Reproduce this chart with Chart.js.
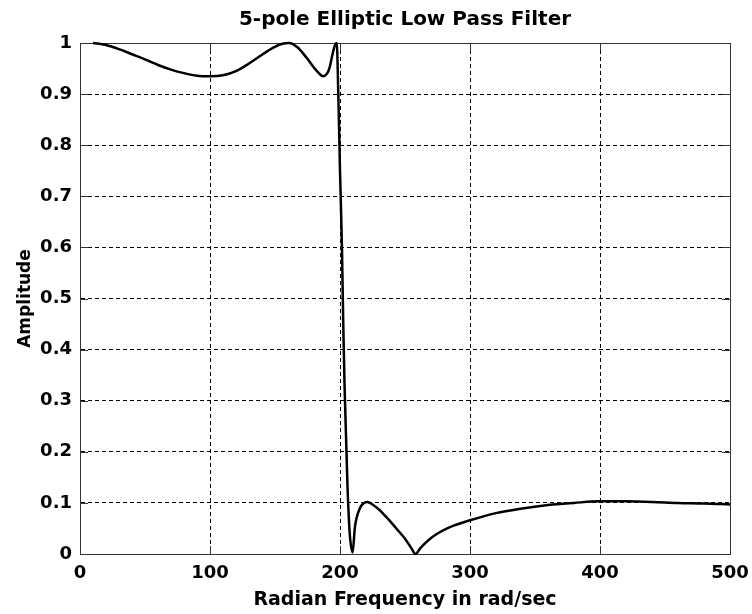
<!DOCTYPE html>
<html>
<head>
<meta charset="utf-8">
<script src="https://cdn.jsdelivr.net/npm/chart.js@4/dist/chart.umd.min.js"></script>
<style>
  html, body { margin: 0; padding: 0; background: #fff; }
  #wrap { width: 752px; height: 614px; }
</style>
</head>
<body>
<div id="wrap"><canvas id="myChart" width="752" height="614"></canvas></div>
<script>
// values (rad/sec vs amplitude)
const freq = [10, 20, 30, 40, 50, 60, 70, 80, 90, 100, 110, 120, 130, 140, 148, 155, 161, 167, 174, 179, 183, 187, 190, 192, 194, 196, 197.5,
  198.7, 200, 201.5, 202.5, 203.5, 205, 205.8, 206.8, 207.8, 209.7,
  211.5, 215.4, 218, 221, 225, 230, 235, 240, 245, 250, 255, 258,
  262, 268, 275, 285, 300, 320, 340, 360, 380, 400, 420, 440, 460, 480, 500];
const amplitude = [1.0, 0.996, 0.988, 0.978, 0.968, 0.957, 0.948, 0.941, 0.936, 0.935, 0.937, 0.945, 0.960, 0.977, 0.99, 0.998, 1.0, 0.992, 0.972, 0.955, 0.943, 0.935, 0.94, 0.952, 0.975, 0.995, 1.0,
  0.9, 0.75, 0.6, 0.45, 0.33, 0.2, 0.13, 0.07, 0.03, 0.003,
  0.053, 0.09, 0.099, 0.102, 0.097, 0.087, 0.074, 0.06, 0.045, 0.03, 0.011, 0.0,
  0.012, 0.027, 0.04, 0.053, 0.066, 0.08, 0.089, 0.096, 0.1, 0.103, 0.103, 0.102, 0.1, 0.099, 0.097];

const xTicks = [0, 100, 200, 300, 400, 500];
const yTicks = [0, 0.1, 0.2, 0.3, 0.4, 0.5, 0.6, 0.7, 0.8, 0.9, 1];

const titleText = '5-pole Elliptic Low Pass Filter';
const xLabel = 'Radian Frequency in rad/sec';
const yLabel = 'Amplitude';

const fontFam = '"DejaVu Sans", sans-serif';

// matlab style box with inward tick marks
const boxPlugin = {
  id: 'box',
  beforeDatasetsDraw(chart) {
    const {ctx, chartArea: a, scales} = chart;
    ctx.save();
    ctx.strokeStyle = '#333';
    ctx.lineWidth = 1;
    ctx.beginPath();
    xTicks.forEach(v => {
      let px = Math.round(scales.x.getPixelForValue(v)) + 0.5;
      ctx.moveTo(px, a.bottom); ctx.lineTo(px, a.bottom - 8);
      ctx.moveTo(px, a.top); ctx.lineTo(px, a.top + 8);
    })
    yTicks.forEach(v => {
      let py = Math.round(scales.y.getPixelForValue(v)) + 0.5;
      ctx.moveTo(a.left, py); ctx.lineTo(a.left + 8, py);
      ctx.moveTo(a.right, py); ctx.lineTo(a.right - 8, py);
    })
    ctx.stroke();
    ctx.strokeRect(Math.round(a.left) + 0.5, Math.round(a.top) + 0.5,
      Math.round(a.right - a.left), Math.round(a.bottom - a.top));
    ctx.restore();
  }
};

let ctx = document.getElementById('myChart').getContext('2d');
let chart = new Chart(ctx, {
  type: 'line',
  data: {
    datasets: [{
      data: freq.map((f, i) => ({x: f, y: amplitude[i]})),
      borderColor: '#000',
      borderWidth: 2.5,
      pointRadius: 0,
      fill: false,
      cubicInterpolationMode: 'monotone',
      clip: 4,
    }]
  },
  options: {
    responsive: false,
    animation: false,
    layout: { padding: { left: 0, right: 22, top: 0, bottom: 0 } },
    plugins: {
      legend: { display: false },
      tooltip: { enabled: false },
      title: {
        display: true,
        text: titleText,
        fullSize: false,
        color: '#000',
        font: { family: fontFam, size: 20, weight: 'bold', lineHeight: 1.2 },
        padding: { top: 8, bottom: 11 },
      },
    },
    scales: {
      x: {
        type: 'linear',
        min: 0,
        max: 500,
        afterBuildTicks: s => { s.ticks = xTicks.map(v => ({value: v})) },
        afterFit: s => { s.height = 60; s.paddingLeft = 0; s.paddingRight = 0 },
        grid: { color: '#000', lineWidth: 1, drawTicks: false },
        border: { color: '#333', width: 1, dash: [4, 3] },
        ticks: {
          color: '#000',
          padding: 9,
          maxRotation: 0,
          font: { family: fontFam, size: 18, weight: 'bold' },
        },
        title: {
          display: true,
          text: xLabel,
          color: '#000',
          font: { family: fontFam, size: 19, weight: 'bold', lineHeight: 1.2 },
          padding: { top: 0, bottom: 3 },
        },
      },
      y: {
        min: 0,
        max: 1,
        afterBuildTicks: s => { s.ticks = yTicks.map(v => ({value: v})) },
        afterFit: s => { s.width = 80; s.paddingTop = 0; s.paddingBottom = 0 },
        grid: { color: '#000', lineWidth: 1, drawTicks: false },
        border: { color: '#333', width: 1, dash: [4, 3] },
        ticks: {
          color: '#000',
          padding: 8,
          callback: v => String(+v.toFixed(1)),
          font: { family: fontFam, size: 18, weight: 'bold' },
        },
        title: {
          display: true,
          text: yLabel,
          color: '#000',
          font: { family: fontFam, size: 17, weight: 'bold', lineHeight: 1.2 },
          padding: { top: 15, bottom: 0 },
        },
      },
    },
  },
  plugins: [boxPlugin],
});
</script>
</body>
</html>
